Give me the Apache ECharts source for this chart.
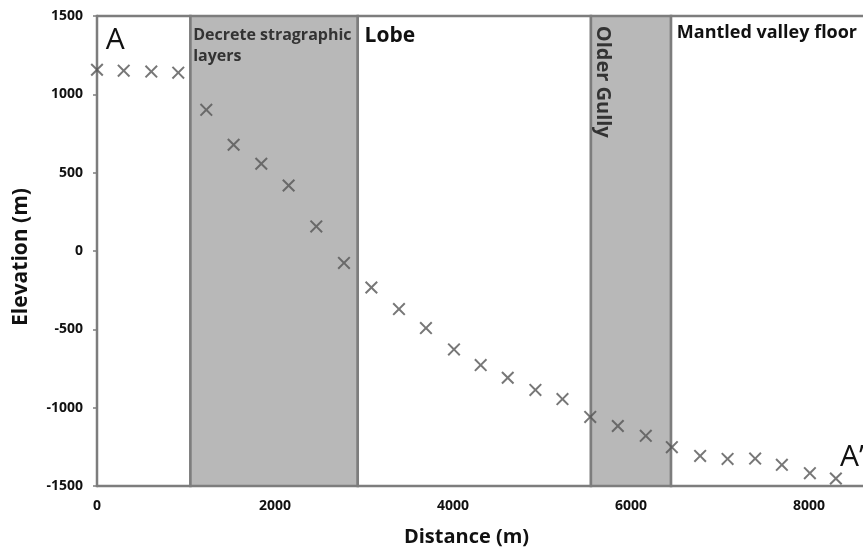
<!DOCTYPE html>
<html>
<head>
<meta charset="utf-8">
<script src="https://cdn.jsdelivr.net/npm/echarts@6/dist/echarts.min.js"></script>
<style>
  html, body { margin: 0; padding: 0; background: #fff; }
  #main { width: 863px; height: 549px; }
</style>
</head>
<body>
<div id="main"></div>
<script>
// profile A - A'
var distance = [0, 300, 610, 913, 1228, 1535, 1846, 2153, 2464, 2775, 3083, 3393, 3696, 4011,
  4311, 4615, 4926, 5230, 5542, 5852, 6166, 6459, 6777, 7085, 7395, 7695, 8010, 8302];
var elevation = [1157, 1151, 1145, 1138, 901, 678, 557, 418, 157, -76, -233, -371, -492, -628,
  -728, -809, -887, -945, -1059, -1117, -1180, -1252, -1308, -1327, -1325, -1365, -1418, -1452];

// zones along the profile
var zoneNames = ["A", "Decrete stragraphic\nlayers", "Lobe", "Older Gully", "Mantled valley floor"];
var zoneStart = [0, 1050, 2930, 5550, 6450];
var zoneEnd = [1050, 2930, 5550, 6450, 9000];
var zoneShaded = [false, true, false, true, false];

var xTicks = [0, 2000, 4000, 6000, 8000];
var yTicks = [-1500, -1000, -500, 0, 500, 1000, 1500];

var font = "Open Sans";
var myChart = echarts.init(document.getElementById("main"));

var zoneLabel = function (i) {
  if (i === 0) {
    return { show: true, position: "insideTopLeft", offset: [5, 6], fontSize: 30, fontWeight: "normal", color: "#111", fontFamily: font };
  }
  if (i === 1) {
    return { show: true, position: "insideTopLeft", offset: [-1, 5], fontSize: 16, fontWeight: "bold", color: "#333", lineHeight: 21, fontFamily: font };
  }
  if (i === 3) {
    // vertical text, reads top to bottom
    return { show: true, position: [13, 11], rotate: -90, align: "left", verticalAlign: "middle", fontSize: 20, fontWeight: "bold", color: "#333", fontFamily: font };
  }
  if (i === 2) {
    return { show: true, position: "insideTopLeft", offset: [3, 6], fontSize: 21, fontWeight: "bold", color: "#111", fontFamily: font };
  }
  return { show: true, position: "insideTopLeft", offset: [2, 4], fontSize: 18, fontWeight: "bold", color: "#111", fontFamily: font };
};

var areas = zoneNames.map(function (name, i) {
  return [
    {
      name: name,
      xAxis: zoneStart[i],
      yAxis: 1500,
      itemStyle: { color: zoneShaded[i] ? "#b8b8b8" : "#ffffff", borderColor: "#7d7d7d", borderWidth: 2.5 },
      label: zoneLabel(i)
    },
    { xAxis: zoneEnd[i], yAxis: -1500 }
  ];
});

var option = {
  animation: false,
  backgroundColor: "#fff",
  grid: { left: 97, right: -35, top: 16, bottom: 63, outerBoundsMode: "none" },
  xAxis: {
    type: "value",
    min: 0,
    max: 9000,
    interval: 2000,
    name: "Distance (m)",
    nameLocation: "middle",
    nameGap: 41,
    nameTextStyle: { fontSize: 20, fontWeight: "bold", color: "#111", fontFamily: font, padding: [0, 62, 0, 0] },
    splitLine: { show: false },
    axisLine: { show: true, lineStyle: { color: "#7d7d7d", width: 2.5 } },
    axisTick: { show: true, length: 4, lineStyle: { color: "#7d7d7d", width: 1.5 } },
    axisLabel: {
      margin: 13, fontSize: 14, fontWeight: "bold", color: "#111", fontFamily: font,
      showMaxLabel: false,
      formatter: function (v) { return xTicks.indexOf(v) >= 0 ? String(v) : ""; }
    }
  },
  yAxis: {
    type: "value",
    min: -1500,
    max: 1500,
    interval: 500,
    name: "Elevation (m)",
    nameLocation: "middle",
    nameGap: 65,
    nameTextStyle: { fontSize: 21, fontWeight: "bold", color: "#111", fontFamily: font, padding: [0, 12, 0, 0] },
    splitLine: { show: false },
    axisLine: { show: true, onZero: false, lineStyle: { color: "#7d7d7d", width: 2.5 } },
    axisTick: { show: true, length: 4, lineStyle: { color: "#7d7d7d", width: 1.5 } },
    axisLabel: {
      margin: 14, fontSize: 14, fontWeight: "bold", color: "#111", fontFamily: font,
      formatter: function (v) { return yTicks.indexOf(v) >= 0 ? String(v) : ""; }
    }
  },
  series: [
    {
      name: "Profile",
      type: "scatter",
      symbol: "path://M0,1.3L1.3,0L6,4.7L10.7,0L12,1.3L7.3,6L12,10.7L10.7,12L6,7.3L1.3,12L0,10.7L4.7,6Z",
      symbolSize: 13,
      itemStyle: { color: "#555555" },
      z: 5,
      data: distance.map(function (d, i) { return [d, elevation[i]]; }),
      markArea: {
        silent: true,
        z: 1,
        data: areas
      },
      markPoint: {
        symbol: "circle",
        symbolSize: 0,
        label: { show: true, formatter: "{b}", fontSize: 30, color: "#111", fontFamily: font },
        data: [{ name: "A\u2019", coord: [8483, -1320] }]
      }
    }
  ]
};
myChart.setOption(option);
</script>
</body>
</html>
